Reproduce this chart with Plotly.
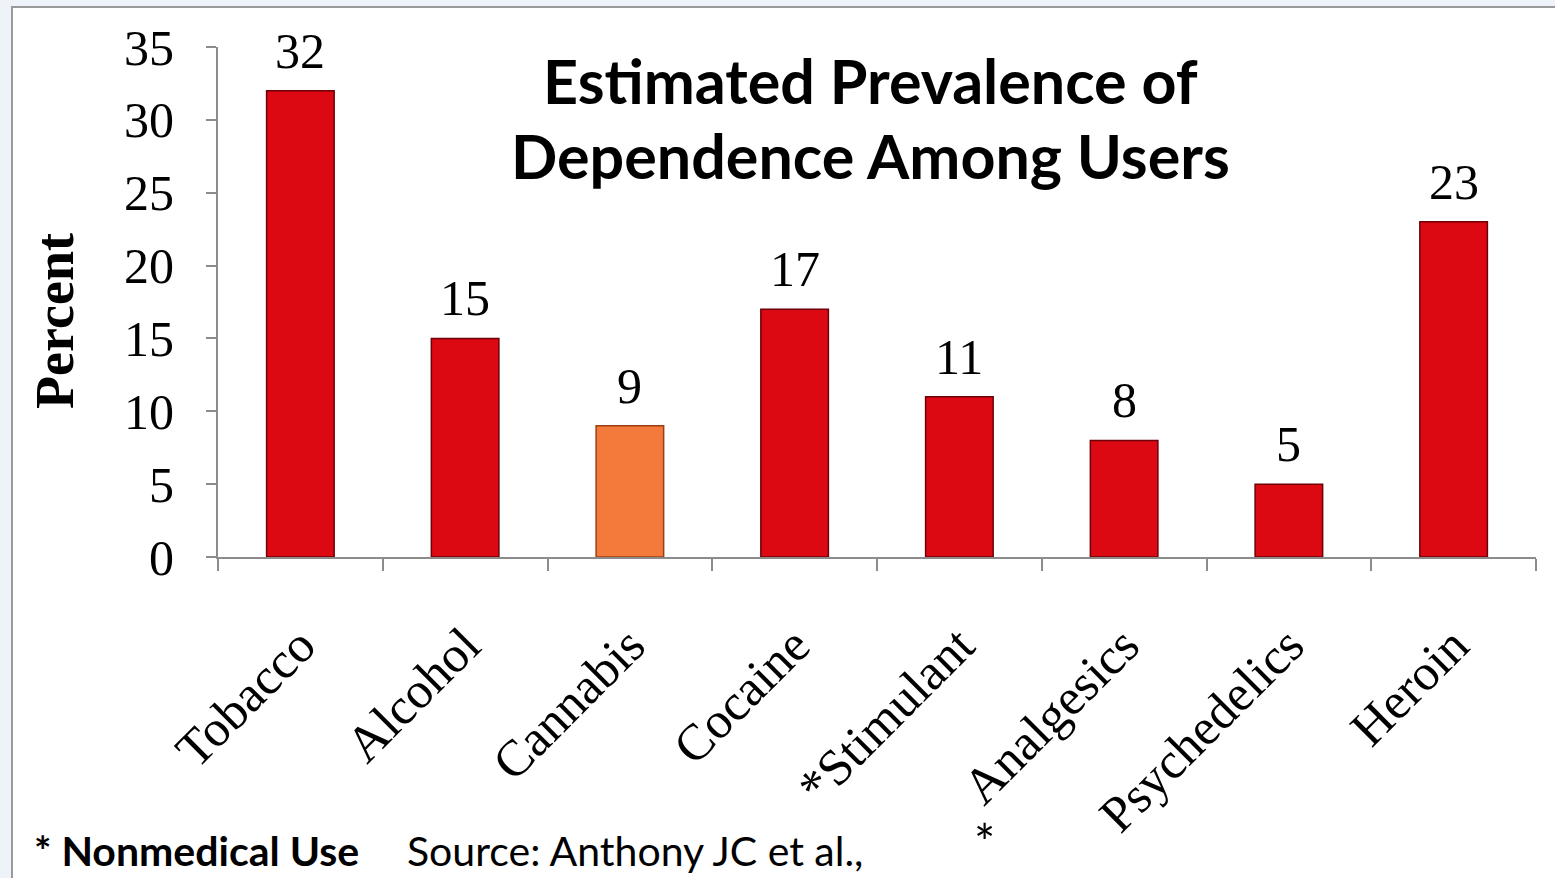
import plotly.graph_objects as go

categories = ["Tobacco", "Alcohol", "Cannabis", "Cocaine", "Stimulant", "Analgesics", "Psychedelics", "Heroin"]
tick_labels = ["Tobacco", "Alcohol", "Cannabis", "Cocaine", "*Stimulant", "Analgesics", "Psychedelics", "Heroin"]
values = [32, 15, 9, 17, 11, 8, 5, 23]
bar_colors = ["#dc0812", "#dc0812", "#f47a3c", "#dc0812", "#dc0812", "#dc0812", "#dc0812", "#dc0812"]
line_colors = ["#6e0008", "#6e0008", "#9a4010", "#6e0008", "#6e0008", "#6e0008", "#6e0008", "#6e0008"]
y_ticks = [0, 5, 10, 15, 20, 25, 30, 35]

W, H = 1555, 878
L, R, T, B = 218, 19, 47, 321
pw, ph = W - L - R, H - T - B


def px_x(p):
    return (p - L) / pw


def px_y(p):
    return (H - B - p) / ph


serif = "Liberation Serif"

fig = go.Figure()
fig.add_trace(go.Bar(
    x=categories, y=values,
    marker=dict(color=bar_colors, line=dict(color=line_colors, width=1.5)),
    width=0.41,
))

for c, v in zip(categories, values):
    fig.add_annotation(x=c, y=v, text=str(v), showarrow=False,
                       xanchor="center", yanchor="bottom", yshift=10,
                       font=dict(family=serif, size=50, color="black"))

fig.update_layout(
    width=W, height=H,
    margin=dict(l=L, r=R, t=T, b=B, autoexpand=False),
    paper_bgcolor="#eef3fa", plot_bgcolor="rgba(0,0,0,0)",
    showlegend=False,
    xaxis=dict(
        tickvals=categories, ticktext=tick_labels, tickangle=-45,
        tickfont=dict(family=serif, size=51, color="black"),
        showline=True, linecolor="#8c8c8c", linewidth=2,
        ticks="outside", ticklen=12, tickcolor="#8c8c8c", tickwidth=2,
        tickson="boundaries", showgrid=False, ticklabelstandoff=36,
    ),
    yaxis=dict(
        range=[0, 35], tickvals=y_ticks,
        tickfont=dict(family=serif, size=50, color="black"),
        showline=True, linecolor="#8c8c8c", linewidth=2,
        ticks="outside", ticklen=10, tickcolor="#8c8c8c", tickwidth=2,
        showgrid=False, zeroline=False, ticklabelstandoff=22,
    ),
    shapes=[dict(
        type="rect", xref="paper", yref="paper", layer="below",
        x0=px_x(12), x1=px_x(1560), y0=px_y(885), y1=px_y(7),
        fillcolor="white", line=dict(color="#9a9a9a", width=2),
    )],
)

title_font = dict(family="Lato", size=61, color="black")
fig.add_annotation(text="<b>Estimated Prevalence of</b>", xref="paper", yref="paper",
                   x=px_x(870), y=px_y(80), showarrow=False, font=title_font,
                   xanchor="center", yanchor="middle")
fig.add_annotation(text="<b>Dependence Among Users</b>", xref="paper", yref="paper",
                   x=px_x(870), y=px_y(155), showarrow=False, font=title_font,
                   xanchor="center", yanchor="middle")
fig.add_annotation(text="<b>Percent</b>", xref="paper", yref="paper",
                   x=px_x(55), y=px_y(321), showarrow=False, textangle=-90,
                   font=dict(family=serif, size=54, color="black"),
                   xanchor="center", yanchor="middle")
fig.add_annotation(text="<b>* Nonmedical Use</b>", xref="paper", yref="paper",
                   x=px_x(32), y=px_y(850), showarrow=False,
                   font=dict(family="Lato", size=41, color="black"),
                   xanchor="left", yanchor="middle")
fig.add_annotation(text="Source: Anthony JC et al.,", xref="paper", yref="paper",
                   x=px_x(405), y=px_y(850), showarrow=False,
                   font=dict(family="Lato", size=41, color="black"),
                   xanchor="left", yanchor="middle")
fig.add_annotation(text="*", xref="paper", yref="paper",
                   x=px_x(984), y=px_y(874), showarrow=False,
                   font=dict(family="Lato", size=50, color="black"),
                   xanchor="center", yanchor="bottom")

fig.write_html("out.html", config={"displayModeBar": False},
               post_script="document.body.style.margin='0';document.body.style.background='#eef3fa';")
